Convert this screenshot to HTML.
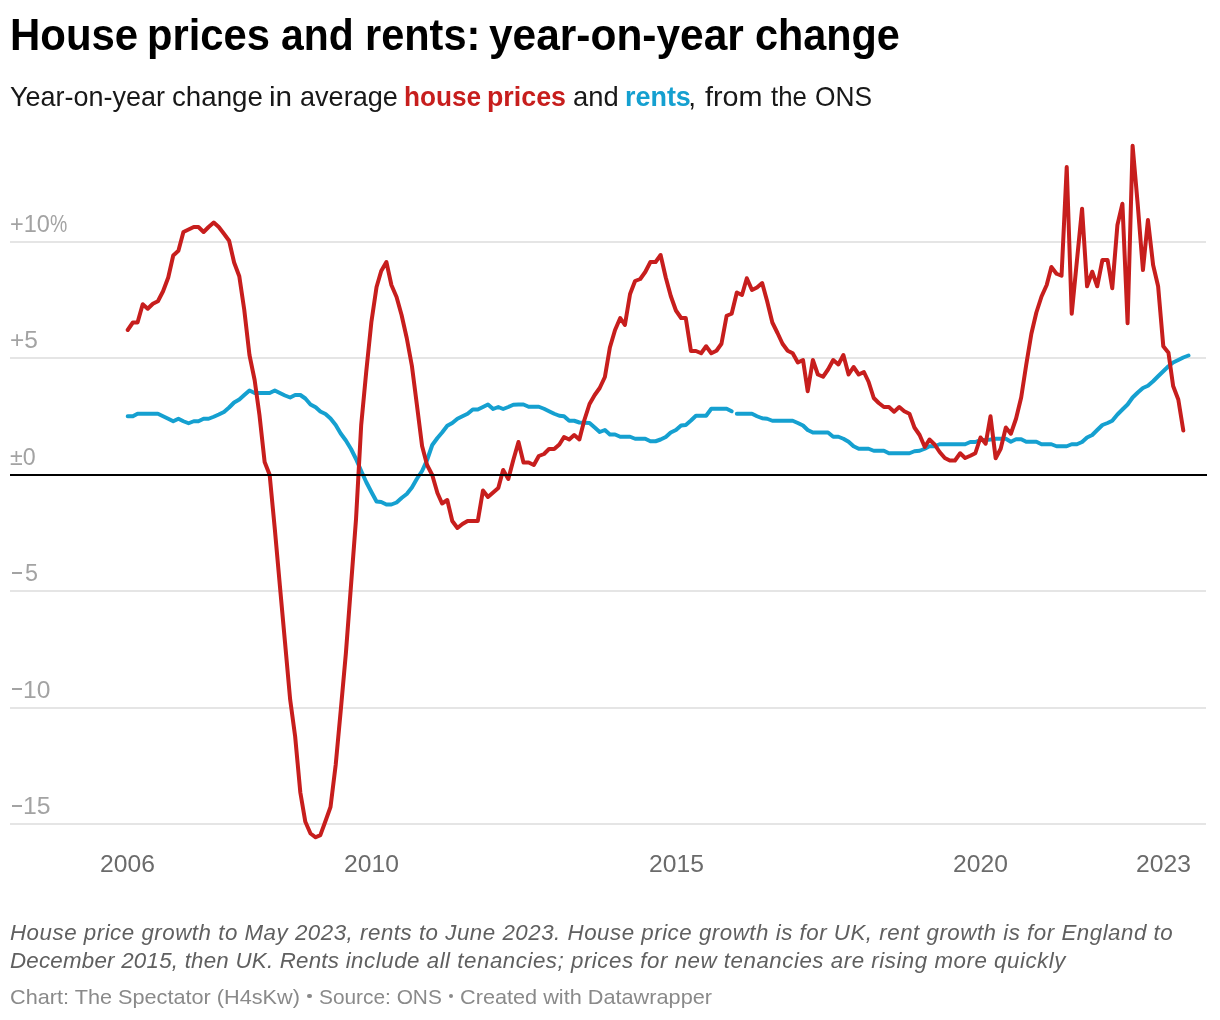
<!DOCTYPE html>
<html><head><meta charset="utf-8">
<style>
html,body{margin:0;padding:0;background:#fff;}
body{width:1220px;height:1020px;position:relative;overflow:hidden;font-family:"Liberation Sans",sans-serif;}
.t{position:absolute;white-space:nowrap;line-height:1;}
.w{position:absolute;white-space:nowrap;line-height:1;transform-origin:0 0;}
.tw{top:14px;font-size:43.5px;font-weight:bold;color:#000;}
.sw{top:82.7px;font-size:28px;color:#181818;}
.sb{font-weight:bold;}
.sb.r{color:#c71e1d;}
.sb.b{color:#15a0d0;}
.mn{position:absolute;left:11.9px;width:10.1px;height:1.9px;background:#a3a3a3;font-size:0;overflow:hidden;}
.ylw{font-size:24px;color:#a3a3a3;}
.xlw{top:852.3px;font-size:24px;color:#6b6b6b;}
#note{left:10px;top:918.5px;font-size:22.3px;font-style:italic;color:#606060;line-height:28px;white-space:nowrap;letter-spacing:0.5px;}
.fw{top:986px;font-size:21px;color:#8a8a8a;}
.bl{position:absolute;top:993.7px;width:4.7px;height:4.7px;border-radius:50%;background:#8a8a8a;font-size:0;overflow:hidden;}
svg{position:absolute;left:0;top:0;}
#wrap{position:absolute;left:0;top:0;width:1220px;height:1020px;will-change:transform;}
</style></head><body><div id="wrap">
<span class="w tw" style="left:9.81px;transform:scaleX(0.9641);">House</span> <span class="w tw" style="left:147.12px;transform:scaleX(0.9593);">prices</span> <span class="w tw" style="left:280.81px;transform:scaleX(0.9392);">and</span> <span class="w tw" style="left:364.64px;transform:scaleX(0.9539);">rents:</span> <span class="w tw" style="left:489.02px;transform:scaleX(0.976);">year-on-year</span> <span class="w tw" style="left:755.1px;transform:scaleX(0.9513);">change</span>
<span class="w sw" style="left:9.54px;transform:scaleX(0.9638);">Year-on-year</span> <span class="w sw" style="left:172.01px;transform:scaleX(0.9889);">change</span> <span class="w sw" style="left:269.48px;transform:scaleX(1.0611);">in</span> <span class="w sw" style="left:299.53px;transform:scaleX(0.9667);">average</span> <span class="w sw sb r" style="left:403.73px;transform:scaleX(0.935);">house</span> <span class="w sw sb r" style="left:486.99px;transform:scaleX(0.957);">prices</span> <span class="w sw" style="left:573.02px;transform:scaleX(0.9773);">and</span> <span class="w sw sb b" style="left:625.08px;transform:scaleX(0.9615);">rents</span><span class="w sw" style="left:688.3px">,</span> <span class="w sw" style="left:704.5px;transform:scaleX(1.0278);">from</span> <span class="w sw" style="left:771.25px;transform:scaleX(0.9211);">the</span> <span class="w sw" style="left:815.31px;transform:scaleX(0.9397);">ONS</span>
<svg width="1220" height="1020" viewBox="0 0 1220 1020">
<line x1="10" x2="1206" y1="242" y2="242" stroke="#e5e5e5" stroke-width="2"/>
<line x1="10" x2="1206" y1="358" y2="358" stroke="#e5e5e5" stroke-width="2"/>
<line x1="10" x2="1206" y1="591" y2="591" stroke="#e5e5e5" stroke-width="2"/>
<line x1="10" x2="1206" y1="708" y2="708" stroke="#e5e5e5" stroke-width="2"/>
<line x1="10" x2="1206" y1="824" y2="824" stroke="#e5e5e5" stroke-width="2"/>

<path d="M127.70,416.25 L132.87,416.25 L137.54,413.75 L142.71,413.75 L147.71,413.75 L152.88,413.75 L157.89,413.75 L163.06,416.25 L168.23,418.75 L173.23,421.25 L178.40,418.75 L183.41,421.25 L188.58,423.25 L193.75,421.25 L198.42,421.25 L203.59,418.75 L208.59,418.75 L213.76,416.75 L218.77,414.50 L223.94,412.00 L229.11,407.50 L234.11,402.50 L239.28,399.50 L244.28,395.00 L249.46,390.50 L254.63,393.00 L259.46,393.00 L264.63,393.00 L269.64,393.00 L274.81,390.50 L279.81,393.00 L284.98,395.50 L290.15,397.50 L295.15,395.00 L300.33,395.00 L305.33,398.50 L310.50,404.50 L315.67,407.30 L320.34,411.50 L325.51,414.00 L330.51,418.50 L335.68,425.00 L340.69,433.50 L345.86,440.50 L351.03,449.00 L356.03,459.00 L361.20,471.00 L366.21,482.00 L371.38,492.00 L376.55,501.50 L381.22,502.00 L386.39,504.50 L391.39,504.50 L396.56,502.50 L401.57,498.00 L406.74,494.00 L411.91,487.50 L416.91,478.75 L422.08,471.00 L427.08,460.00 L432.25,445.00 L437.42,438.00 L442.10,432.50 L447.27,425.75 L452.27,423.00 L457.44,418.75 L462.44,416.25 L467.61,413.75 L472.78,409.50 L477.79,409.50 L482.96,407.00 L487.96,404.50 L493.13,409.00 L498.30,407.00 L503.14,409.00 L508.31,407.00 L513.31,404.75 L518.48,404.50 L523.49,404.50 L528.66,406.75 L533.83,406.75 L538.83,406.75 L544.00,408.75 L549.01,411.25 L554.18,413.75 L559.35,415.75 L564.02,416.25 L569.19,420.75 L574.19,420.75 L579.36,422.50 L584.37,422.75 L589.54,423.00 L594.71,427.50 L599.71,432.00 L604.88,430.00 L609.88,434.50 L615.05,434.50 L620.22,436.75 L624.89,436.75 L630.06,436.75 L635.07,438.75 L640.24,438.75 L645.24,438.75 L650.41,441.25 L655.58,441.25 L660.59,439.50 L665.76,437.00 L670.76,432.50 L675.93,430.00 L681.10,425.50 L685.77,425.00 L690.94,420.50 L695.95,415.75 L701.12,415.75 L706.12,415.75 L711.29,408.75 L716.46,408.75 L721.46,408.75 L726.63,408.75 L731.64,411.25" fill="none" stroke="#15a0d0" stroke-width="4" stroke-linejoin="round" stroke-linecap="round"/>
<path d="M736.81,413.75 L741.98,413.75 L746.82,413.75 L751.99,413.75 L756.99,416.25 L762.16,418.25 L767.16,418.75 L772.33,420.75 L777.51,420.75 L782.51,420.75 L787.68,420.75 L792.68,420.75 L797.85,423.00 L803.02,425.50 L807.69,430.00 L812.86,432.50 L817.87,432.50 L823.04,432.50 L828.04,432.50 L833.21,436.75 L838.38,436.75 L843.39,438.75 L848.56,441.75 L853.56,446.25 L858.73,448.75 L863.90,448.75 L868.57,448.75 L873.74,450.75 L878.75,450.75 L883.92,450.75 L888.92,453.25 L894.09,453.25 L899.26,453.25 L904.26,453.25 L909.43,453.25 L914.44,451.25 L919.61,450.75 L924.78,448.75 L929.45,446.25 L934.62,446.25 L939.62,444.25 L944.79,444.25 L949.80,444.25 L954.97,444.25 L960.14,444.25 L965.14,444.25 L970.31,442.00 L975.32,442.00 L980.49,440.00 L985.66,440.00 L990.49,439.50 L995.66,438.75 L1000.67,438.75 L1005.84,438.75 L1010.84,441.75 L1016.01,439.25 L1021.18,439.25 L1026.19,441.75 L1031.36,441.75 L1036.36,441.75 L1041.53,444.25 L1046.70,444.25 L1051.37,444.25 L1056.54,446.25 L1061.54,446.25 L1066.72,446.25 L1071.72,444.25 L1076.89,444.25 L1082.06,442.00 L1087.06,437.50 L1092.23,435.00 L1097.24,430.00 L1102.41,425.00 L1107.58,423.00 L1112.25,420.75 L1117.42,414.50 L1122.42,409.50 L1127.59,404.50 L1132.60,397.50 L1137.77,392.50 L1142.94,388.00 L1147.94,385.75 L1153.11,381.25 L1158.12,376.25 L1163.29,371.25 L1168.46,366.25 L1173.13,362.50 L1178.30,360.00 L1183.30,357.50 L1188.47,355.50" fill="none" stroke="#15a0d0" stroke-width="4" stroke-linejoin="round" stroke-linecap="round"/>
<path d="M127.70,330.00 L132.87,322.50 L137.54,322.50 L142.71,304.25 L147.71,308.75 L152.88,303.75 L157.89,301.25 L163.06,291.25 L168.23,277.50 L173.23,255.50 L178.40,250.75 L183.41,232.00 L188.58,229.50 L193.75,227.00 L198.42,227.00 L203.59,232.00 L208.59,227.00 L213.76,222.50 L218.77,227.00 L223.94,233.75 L229.11,240.75 L234.11,262.50 L239.28,276.25 L244.28,310.00 L249.46,355.00 L254.63,380.00 L259.46,415.00 L264.63,462.00 L269.64,474.80 L274.81,529.00 L279.81,585.00 L284.98,642.00 L290.15,699.60 L295.15,736.50 L300.33,792.50 L305.33,821.80 L310.50,833.50 L315.67,837.30 L320.34,835.10 L325.51,821.00 L330.51,807.00 L335.68,765.00 L340.69,711.00 L345.86,653.50 L351.03,585.00 L356.03,519.00 L361.20,425.00 L366.21,372.00 L371.38,322.00 L376.55,287.00 L381.22,271.00 L386.39,262.00 L391.39,285.00 L396.56,297.00 L401.57,315.00 L406.74,338.00 L411.91,366.00 L416.91,405.00 L422.08,446.00 L427.08,465.00 L432.25,475.00 L437.42,493.00 L442.10,503.50 L447.27,500.00 L452.27,521.00 L457.44,528.00 L462.44,524.00 L467.61,521.00 L472.78,521.00 L477.79,521.00 L482.96,490.50 L487.96,497.00 L493.13,492.50 L498.30,488.00 L503.14,470.00 L508.31,479.00 L513.31,460.00 L518.48,442.00 L523.49,462.50 L528.66,462.50 L533.83,465.00 L538.83,456.00 L544.00,454.00 L549.01,449.00 L554.18,449.00 L559.35,444.50 L564.02,437.00 L569.19,439.50 L574.19,435.00 L579.36,439.50 L584.37,420.00 L589.54,404.00 L594.71,395.00 L599.71,388.00 L604.88,377.00 L609.88,347.50 L615.05,330.00 L620.22,318.00 L624.89,325.00 L630.06,294.00 L635.07,281.00 L640.24,279.00 L645.24,272.00 L650.41,262.00 L655.58,262.00 L660.59,255.00 L665.76,277.50 L670.76,296.00 L675.93,310.50 L681.10,318.00 L685.77,318.00 L690.94,351.00 L695.95,351.00 L701.12,353.25 L706.12,346.25 L711.29,353.25 L716.46,350.75 L721.46,343.75 L726.63,315.75 L731.64,313.75 L736.81,292.50 L741.98,295.00 L746.82,278.25 L751.99,290.00 L756.99,287.50 L762.16,283.00 L767.16,301.25 L772.33,322.50 L777.51,333.00 L782.51,343.75 L787.68,350.75 L792.68,353.25 L797.85,362.50 L803.02,360.00 L807.69,391.25 L812.86,360.00 L817.87,374.50 L823.04,376.75 L828.04,369.50 L833.21,360.00 L838.38,364.50 L843.39,355.00 L848.56,374.50 L853.56,367.00 L858.73,374.50 L863.90,372.00 L868.57,381.75 L873.74,398.00 L878.75,403.00 L883.92,407.00 L888.92,407.00 L894.09,411.75 L899.26,407.00 L904.26,411.25 L909.43,413.75 L914.44,427.50 L919.61,435.00 L924.78,447.00 L929.45,439.50 L934.62,444.50 L939.62,452.00 L944.79,458.00 L949.80,460.50 L954.97,460.50 L960.14,453.25 L965.14,458.00 L970.31,455.75 L975.32,453.25 L980.49,437.50 L985.66,443.75 L990.49,416.25 L995.66,458.25 L1000.67,448.75 L1005.84,427.50 L1010.84,433.75 L1016.01,418.75 L1021.18,397.50 L1026.19,365.00 L1031.36,333.75 L1036.36,312.50 L1041.53,296.50 L1046.70,285.00 L1051.37,267.00 L1056.54,273.75 L1061.54,275.75 L1066.72,167.00 L1071.72,313.75 L1076.89,261.00 L1082.06,208.75 L1087.06,286.25 L1092.23,271.75 L1097.24,286.25 L1102.41,260.00 L1107.58,260.00 L1112.25,288.25 L1117.42,225.00 L1122.42,203.75 L1127.59,323.25 L1132.60,145.75 L1137.77,205.00 L1142.94,270.00 L1147.94,220.00 L1153.11,265.00 L1158.12,286.25 L1163.29,346.25 L1168.46,352.75 L1173.13,386.00 L1178.30,399.50 L1183.30,430.50" fill="none" stroke="#c71e1d" stroke-width="4" stroke-linejoin="round" stroke-linecap="round"/>
<line x1="10" x2="1207" y1="475" y2="475" stroke="#000" stroke-width="2"/>
</svg>
<span class="w ylw" style="left:9.62px;top:211.7px;transform:scaleX(0.9795)">+10</span><span class="w ylw" style="left:50.19px;top:211.7px;transform:scaleX(0.81)">%</span> <span class="w ylw" style="left:9.78px;top:328.1px;transform:scaleX(1.02)">+5</span> <span class="w ylw" style="left:10.03px;top:445.0px;transform:scaleX(0.968)">±0</span> <span class="mn" style="top:571.75px">−</span><span class="w ylw" style="left:24.83px;top:560.7px;transform:scaleX(0.9727)">5</span> <span class="mn" style="top:688.45px">−</span><span class="w ylw" style="left:23.35px;top:677.7px;transform:scaleX(1.025)">10</span> <span class="mn" style="top:804.85px">−</span><span class="w ylw" style="left:23.33px;top:793.7px;transform:scaleX(1.0333)">15</span> 
<span class="w xlw" style="left:100.47px;transform:scaleX(1.0275)">2006</span> <span class="w xlw" style="left:344.17px;transform:scaleX(1.0275)">2010</span> <span class="w xlw" style="left:648.67px;transform:scaleX(1.0275)">2015</span> <span class="w xlw" style="left:953.17px;transform:scaleX(1.0275)">2020</span> <span class="w xlw" style="left:1136.07px;transform:scaleX(1.0275)">2023</span>
<div class="t" id="note"><span style="letter-spacing:0.52px">House price growth to May 2023, rents to June 2023. House price growth is for UK, rent growth is for England to</span><br><span style="letter-spacing:0.24px">December 2015, then UK. Rents </span><span style="letter-spacing:0.527px">include all tenancies; prices for new tenancies are rising more quickly</span></div>
<span class="w fw" style="left:9.97px;transform:scaleX(1.0319);">Chart: The Spectator (H4sKw)</span> <span class="bl" style="left:307.30px">•</span> <span class="w fw" style="left:319.11px;transform:scaleX(0.9926);">Source: ONS</span> <span class="bl" style="left:448.50px">•</span> <span class="w fw" style="left:460.37px;transform:scaleX(1.0329);">Created with Datawrapper</span>
</div></body></html>
